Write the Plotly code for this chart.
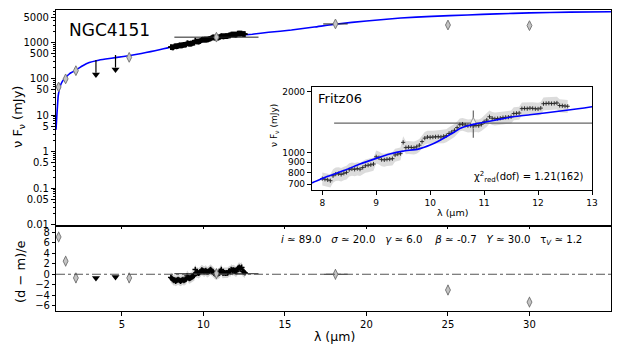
import math
import plotly.graph_objects as go

# ---------------- data ----------------
model_wl = [0.96, 1.0, 1.05, 1.1, 1.2, 1.35, 1.55, 1.8, 2.18, 2.6, 3.0, 3.5, 4.0, 4.7, 5.5, 6.2,
            6.76, 7.3, 7.81, 8.1, 8.45, 8.7, 9.0, 9.25, 9.5, 9.78, 10.0, 10.15, 10.3, 10.45, 10.55,
            10.7, 10.8, 11.05, 11.3, 11.54, 11.85, 12.16, 12.6, 13.0, 14.0, 15.4, 16.8, 18.2, 20.0,
            22.1, 24.0, 26.2, 28.0, 30.0, 32.5, 35.0]
model_flux = [4, 8, 18, 35, 60, 85, 110, 140, 175, 230, 280, 320, 350, 390, 440, 500,
              560, 630, 711, 765, 827, 880, 938, 985, 1019, 1042, 1091, 1140, 1199, 1265, 1318,
              1360, 1380, 1422, 1465, 1505, 1540, 1576, 1630, 1687, 1900, 2200, 2650, 3230, 3900,
              4700, 5200, 5700, 6100, 6500, 6800, 7000]

spec_wl = [8.00, 8.05, 8.10, 8.15, 8.20, 8.25, 8.30, 8.35, 8.40, 8.45,
           8.50, 8.55, 8.60, 8.65, 8.70, 8.75, 8.80, 8.85, 8.90, 8.95,
           9.00, 9.05, 9.10, 9.15, 9.20, 9.25, 9.30, 9.35, 9.40, 9.45,
           9.50, 9.55, 9.60, 9.65, 9.70, 9.75, 9.80, 9.85, 9.90, 9.95,
           10.00, 10.05, 10.10, 10.15, 10.20, 10.25, 10.30, 10.35, 10.40, 10.45,
           10.50, 10.55, 10.60, 10.65, 10.70, 10.75, 10.80, 10.85, 10.90, 10.95,
           11.00, 11.05, 11.10, 11.15, 11.20, 11.25, 11.30, 11.35, 11.40, 11.45,
           11.50, 11.55, 11.60, 11.65, 11.70, 11.75, 11.80, 11.85, 11.90, 11.95,
           12.00, 12.05, 12.10, 12.15, 12.20, 12.25, 12.30, 12.35, 12.40, 12.45,
           12.50, 12.55]
spec_flux = [745, 740, 735, 728, 770, 785, 788, 782, 792, 800,
             825, 832, 828, 835, 830, 845, 862, 868, 872, 880,
             955, 945, 925, 922, 928, 930, 935, 975, 985, 990,
             1125, 1060, 1065, 1062, 1058, 1070, 1090, 1135, 1180, 1195,
             1192, 1195, 1198, 1200, 1196, 1205, 1215, 1245, 1265, 1290,
             1330, 1375, 1385, 1370, 1360, 1362, 1358, 1365, 1360, 1380,
             1420, 1450, 1505, 1480, 1470, 1475, 1480, 1490, 1495, 1498,
             1505, 1560, 1565, 1570, 1650, 1655, 1650, 1660, 1655, 1648,
             1645, 1660, 1745, 1750, 1755, 1748, 1752, 1760, 1710, 1705,
             1700, 1695]
spec_err = [55, 55, 55, 55, 58, 60, 60, 60, 60, 62,
            62, 63, 63, 63, 63, 64, 65, 66, 66, 66,
            70, 70, 68, 68, 68, 68, 70, 72, 72, 72,
            80, 78, 78, 78, 78, 80, 80, 82, 85, 88,
            88, 88, 88, 90, 90, 90, 90, 92, 92, 95,
            98, 100, 100, 100, 100, 100, 100, 100, 100, 100,
            105, 108, 110, 110, 108, 108, 110, 110, 110, 110,
            110, 115, 115, 115, 120, 120, 120, 120, 120, 120,
            120, 120, 128, 128, 128, 128, 128, 128, 125, 125,
            125, 125]
spec_resid = [-0.6, -0.7, -0.9, -1.1, -1.2, -1.1, -1.3, -1.2, -1.1, -1.0,
              -1.1, -1.2, -1.3, -1.2, -1.1, -1.0, -1.2, -1.1, -1.0, -0.9,
              -0.3, -0.6, -0.7, -0.8, -0.7, -0.6, -0.5, -0.4, -0.3, -0.2,
              0.9, 0.3, 0.4, 0.3, 0.2, 0.3, 0.4, 0.6, 0.8, 0.7,
              0.6, 0.5, 0.6, 0.7, 0.5, 0.4, 0.5, 0.6, 0.8, 0.9,
              0.7, 0.5, 0.4, 0.2, 0.1, 0.0, -0.1, 0.0, 0.1, 0.2,
              0.3, 0.6, 0.9, 0.4, 0.2, 0.3, 0.3, 0.2, 0.3, 0.2,
              0.3, 0.5, 0.6, 0.5, 0.9, 0.8, 0.7, 0.8, 0.7, 0.6,
              0.5, 0.6, 1.1, 1.2, 1.3, 1.1, 1.2, 1.3, 0.6, 0.5,
              0.4, 0.3]

phot_wl = [1.12, 1.55, 2.18, 5.45, 10.8, 18.1, 25.0, 30.0]
phot_flux = [60, 100, 168, 390, 1400, 3230, 3020, 2900]
phot_yerr = [9, 15, 25, 59, 215, 480, 450, 435]
phot_xerr = [0, 0, 0, 0, 2.58, 0.75, 0, 0]
phot_resid = [7.1, 2.5, -0.7, -0.7, 0.1, 0.0, -3.0, -5.3]

ul_wl = [3.41, 4.61]
ul_flux = [330, 454]
ul_resid = [-0.7, -0.5]

main_yticks = [0.01, 0.05, 0.1, 0.5, 1, 5, 10, 50, 100, 500, 1000, 5000]
main_yticklabels = ["0.01", "0.05", "0.1", "0.5", "1", "5", "10", "50", "100", "500", "1000", "5000"]
res_yticks = [-6, -4, -2, 0, 2, 4, 6, 8]
res_yticklabels = ["−6", "−4", "−2", "0", "2", "4", "6", "8"]
x_ticks = [5, 10, 15, 20, 25, 30]
inset_xticks = [8, 9, 10, 11, 12, 13]
inset_yticks = [700, 800, 900, 1000, 2000]

params_text = ("<i>i</i> ≃ 89.0   <i>σ</i> ≃ 20.0   <i>γ</i> ≃ 6.0    <i>β</i> ≃ -0.7   "
               "<i>Y</i> ≃ 30.0   τ<sub><i>V</i></sub> ≃ 1.2")

# ---------------- style / layout constants ----------------
# The page body has an 8px default margin: the figure is sized so that it fills the
# 623x346 window exactly, and every reference pixel position is shifted by OFF.
OFF = 8
W, H = 623 - OFF, 346 - OFF
L, R, T, B = 56, 611, 10, 311          # plot area in window pixels
FONT = "DejaVu Sans"
BLUE = "#0000ff"
DIAM_FILL = "#c4c4c4"
DIAM_EDGE = "#7a7a7a"
ARROW_END = 0.45
ARROW_HEAD = 0.40


def px(x, y):
    return (x - L) / (R - L), (B - y) / (B - T)


minor_vals = [m * 10 ** e for e in range(-2, 4) for m in range(2, 10)]

fig = go.Figure()

# ---------- main panel ----------
fig.add_trace(go.Scatter(x=model_wl, y=model_flux, mode="lines",
                         line=dict(color=BLUE, width=1.6, shape="spline", smoothing=0.5),
                         xaxis="x", yaxis="y", hoverinfo="skip"))
fig.add_trace(go.Scatter(x=spec_wl, y=spec_flux, mode="markers",
                         marker=dict(symbol="cross-thin", size=4, line=dict(color="black", width=1.6)),
                         xaxis="x", yaxis="y"))
fig.add_trace(go.Scatter(x=phot_wl, y=phot_flux, mode="markers",
                         error_y=dict(type="data", array=phot_yerr, color="#555", thickness=1, width=0),
                         error_x=dict(type="data", array=phot_xerr, color="#222", thickness=1, width=0),
                         marker=dict(symbol="diamond-tall", size=7, color=DIAM_FILL,
                                     line=dict(color=DIAM_EDGE, width=1)),
                         xaxis="x", yaxis="y"))
fig.add_trace(go.Scatter(x=ul_wl, y=ul_flux, mode="markers",
                         marker=dict(size=1, color="rgba(0,0,0,0)"),
                         error_y=dict(type="data", symmetric=False, array=[0, 0],
                                      arrayminus=[v * (1 - ARROW_END) for v in ul_flux],
                                      color="black", thickness=1.2, width=0),
                         xaxis="x", yaxis="y"))
fig.add_trace(go.Scatter(x=ul_wl, y=[v * ARROW_HEAD for v in ul_flux], mode="markers",
                         marker=dict(symbol="triangle-down", size=7, color="black"),
                         xaxis="x", yaxis="y"))

# ---------- residual panel ----------
fig.add_shape(type="line", xref="x2 domain", yref="y2", x0=0, x1=1, y0=0, y1=0,
              line=dict(color="#555", width=1, dash="dashdot"))
fig.add_trace(go.Scatter(x=spec_wl, y=[r + 1 for r in spec_resid], mode="lines",
                         line=dict(width=0, color="rgba(0,0,0,0)"), xaxis="x2", yaxis="y2"))
fig.add_trace(go.Scatter(x=spec_wl, y=[r - 1 for r in spec_resid], mode="lines",
                         line=dict(width=0, color="rgba(0,0,0,0)"), fill="tonexty",
                         fillcolor="rgba(195,195,195,0.7)", xaxis="x2", yaxis="y2"))
fig.add_trace(go.Scatter(x=spec_wl, y=spec_resid, mode="markers",
                         marker=dict(symbol="cross-thin", size=4, line=dict(color="black", width=1.4)),
                         xaxis="x2", yaxis="y2"))
fig.add_trace(go.Scatter(x=phot_wl, y=phot_resid, mode="markers",
                         error_y=dict(type="constant", value=1, color="#555", thickness=1, width=0),
                         error_x=dict(type="data", array=phot_xerr, color="#222", thickness=1, width=0),
                         marker=dict(symbol="diamond-tall", size=7, color=DIAM_FILL,
                                     line=dict(color=DIAM_EDGE, width=1)),
                         xaxis="x2", yaxis="y2"))
fig.add_trace(go.Scatter(x=ul_wl, y=ul_resid, mode="markers",
                         marker=dict(symbol="triangle-down", size=7, color="black"),
                         xaxis="x2", yaxis="y2"))

# ---------- inset ----------
fig.add_trace(go.Scatter(x=spec_wl, y=[f + e for f, e in zip(spec_flux, spec_err)], mode="lines",
                         line=dict(width=0, color="rgba(0,0,0,0)"), xaxis="x3", yaxis="y3"))
fig.add_trace(go.Scatter(x=spec_wl, y=[f - e for f, e in zip(spec_flux, spec_err)], mode="lines",
                         line=dict(width=0, color="rgba(0,0,0,0)"), fill="tonexty",
                         fillcolor="rgba(205,205,205,0.7)", xaxis="x3", yaxis="y3"))
fig.add_trace(go.Scatter(x=phot_wl, y=phot_flux, mode="markers",
                         error_y=dict(type="data", array=phot_yerr, color="#666", thickness=1.2, width=0),
                         error_x=dict(type="data", array=phot_xerr, color="#666", thickness=1.2, width=0),
                         marker=dict(symbol="diamond-tall", size=8, color="#f2f2f2",
                                     line=dict(color="#999", width=1)),
                         xaxis="x3", yaxis="y3"))
fig.add_trace(go.Scatter(x=spec_wl, y=spec_flux, mode="markers",
                         marker=dict(symbol="cross-thin", size=3, line=dict(color="#222", width=0.9)),
                         xaxis="x3", yaxis="y3"))
fig.add_trace(go.Scatter(x=model_wl, y=model_flux, mode="lines",
                         line=dict(color=BLUE, width=1.6, shape="spline", smoothing=0.5),
                         xaxis="x3", yaxis="y3"))

axis_common = dict(showline=True, linecolor="black", linewidth=1.2, mirror=True,
                   showgrid=False, zeroline=False, ticks="outside", tickcolor="black",
                   automargin=False, tickfont=dict(family=FONT, size=10, color="black"))

main_bottom = (B - 224.5) / (B - T)
res_top = (B - 227) / (B - T)
ix0, iy0 = px(312, 190)
ix1, iy1 = px(592, 87)

fig.update_layout(
    template="none",
    width=W, height=H,
    margin=dict(l=L - OFF, r=(623 - R), t=T - OFF, b=346 - B, autoexpand=False),
    paper_bgcolor="white", plot_bgcolor="white",
    showlegend=False,
    font=dict(family=FONT, color="black"),
    xaxis=dict(axis_common, domain=[0, 1], anchor="y", range=[0.96, 35], tickvals=x_ticks,
               showticklabels=False, ticklen=3),
    yaxis=dict(axis_common, domain=[main_bottom, 1], anchor="x", type="log",
               range=[-2, math.log10(7800)], tickvals=main_yticks, ticktext=main_yticklabels,
               ticklen=4,
               minor=dict(tickvals=minor_vals, ticks="outside", ticklen=2, tickcolor="black")),
    xaxis2=dict(axis_common, domain=[0, 1], anchor="y2", range=[0.96, 35], tickvals=x_ticks,
                ticklen=4),
    yaxis2=dict(axis_common, domain=[0, res_top], anchor="x2", range=[-7, 9],
                tickmode="array", tickvals=res_yticks, ticktext=res_yticklabels, ticklen=3,
                showticklabels=True, ticklabeloverflow="allow", side="left"),
    xaxis3=dict(axis_common, domain=[ix0, ix1], anchor="y3", range=[7.81, 13],
                tickvals=inset_xticks, ticklen=4,
                tickfont=dict(family=FONT, size=9, color="black")),
    yaxis3=dict(axis_common, domain=[iy0, iy1], anchor="x3", type="log",
                range=[math.log10(655), math.log10(2110)], tickvals=inset_yticks, ticklen=4,
                tickfont=dict(family=FONT, size=9, color="black")),
)


def ann(text, x, y, size, xanchor="center", yanchor="middle", angle=0):
    ax, ay = px(x, y)
    fig.add_annotation(text=text, x=ax, y=ay, xref="paper", yref="paper", showarrow=False,
                       xanchor=xanchor, yanchor=yanchor, textangle=angle,
                       font=dict(family=FONT, size=size, color="black"))


ann("ν F<sub>ν</sub> (mJy)", 18, 117, 13, angle=-90)
ann("(d − m)/e", 20, 272, 13, angle=-90)
ann("λ (μm)", 334, 336, 12.5)
ann("NGC4151", 67, 30, 17, xanchor="left")
ann("Fritz06", 316, 98, 13, xanchor="left")
ann("χ<sup>2</sup><sub>red</sub>(dof) = 1.21(162)", 586, 177, 10, xanchor="right")
ann("ν F<sub>ν</sub> (mJy)", 275, 126, 9, angle=-90)
ann("λ (μm)", 452, 212, 9.5)
ann(params_text, 584, 240, 10.2, xanchor="right")

fig.write_html("out.html")
